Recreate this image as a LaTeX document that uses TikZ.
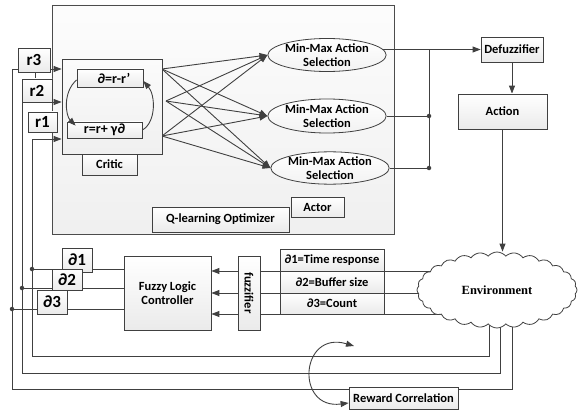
\documentclass[tikz,border=0pt]{standalone}
\usepackage{fontspec}
\setmainfont{Carlito}
\newfontfamily\envfont{Liberation Serif}
\usetikzlibrary{shapes.geometric,shapes.symbols,arrows.meta}

\pgfdeclarelayer{panel}
\pgfdeclarelayer{wires}
\pgfsetlayers{panel,wires,main}

\tikzset{
  wire/.style={draw=black!75, line width=0.9pt},
  box/.style={draw=black!75, line width=0.8pt, top color=white, bottom color=gray!16,
    inner sep=0pt, align=center, font=\bfseries\fontsize{12.5}{14}\selectfont},
  rlabel/.style={box, font=\bfseries\fontsize{17}{18}\selectfont},
  sel/.style={ellipse, draw=black!75, line width=0.8pt, top color=white, bottom color=gray!10,
    inner sep=0pt, align=center, font=\bfseries\fontsize{12.5}{14}\selectfont},
  dot/.style={circle, fill=black!75, inner sep=0pt, minimum size=4.5pt},
}

\begin{document}
\begin{tikzpicture}[x=1pt,y=-1pt,>={Triangle[length=8pt,width=6pt]}]
   \useasboundingbox (0,0) rectangle (579,412);

   % actor panel
   \begin{pgfonlayer}{panel}
   \draw[draw=black!70, line width=0.8pt, top color=gray!2, bottom color=gray!12] (52,5) rectangle (394,234);
   \end{pgfonlayer}

   % critic
   \node[box, top color=gray!3, bottom color=gray!12, minimum width=100, minimum height=95] (critic) at (112,106.5) {};
   \node[box, minimum width=66, minimum height=18, font=\bfseries\fontsize{14}{15}\selectfont] (delta) at (110,78) {\hspace*{8pt}∂=r-r’};
   \node[box, minimum width=75, minimum height=16, font=\bfseries\fontsize{14}{15}\selectfont] (upd) at (104.5,130) {r=r+ γ∂};
   \node[box, minimum width=55, minimum height=21] (criticlbl) at (109.5,164.5) {Critic};

   % actor
   \node[sel, minimum width=113, minimum height=33] (sel1) at (327,55) {Min-Max Action\\Selection};
   \node[sel, minimum width=113, minimum height=34] (sel2) at (327,116) {Min-Max Action\\Selection};
   \node[sel, minimum width=115, minimum height=32] (sel3) at (330,168) {Min-Max Action\\Selection};
   \node[box, minimum width=137, minimum height=25] (qopt) at (220.5,219.5) {Q-learning Optimizer};
   \node[box, minimum width=53, minimum height=20] (actor) at (317.5,207) {Actor};

   \node[box, minimum width=62, minimum height=25] (defuzz) at (512,49.5) {Defuzzifier};
   \node[box, minimum width=89, minimum height=35] (action) at (502.5,111.5) {Action};

   % fuzzy part
   \node[box, minimum width=87, minimum height=74] (flc) at (167.5,293) {Fuzzy Logic\\Controller};
   \node[box, minimum width=22, minimum height=74] (fuzz) at (249,293) {};
   \node[rotate=-90, font=\bfseries\fontsize{12.5}{14}\selectfont] at (fuzz) {fuzzifier};
   \node[box, minimum width=104, minimum height=22] (st1) at (332,260) {∂1=Time response};
   \node[box, minimum width=104, minimum height=22] (st2) at (332,282) {∂2=Buffer size};
   \node[box, minimum width=104, minimum height=21] (st3) at (332,303.5) {∂3=Count};

   \node[cloud, draw=black!75, line width=0.8pt, fill=white, cloud puffs=28, cloud puff arc=100, aspect=2.1,
         minimum width=160, minimum height=76, inner sep=0pt, font=\envfont\bfseries\fontsize{12.5}{14}\selectfont] (env) at (497,290) {Environment};

   \node[box, minimum width=109, minimum height=22] (reward) at (403.5,398) {Reward Correlation};

   % rewards and states
   \node[rlabel, minimum width=32, minimum height=24] (r3) at (34,60) {r3};
   \node[rlabel, minimum width=30, minimum height=23] (r2) at (37,90.5) {r2};
   \node[rlabel, minimum width=29, minimum height=20] (r1) at (42.5,122) {r1};
   \node[rlabel, minimum width=30, minimum height=24] (d1) at (77,260) {∂1};
   \node[rlabel, minimum width=30, minimum height=21] (d2) at (67,279.5) {∂2};
   \node[rlabel, minimum width=30, minimum height=24] (d3) at (52,302) {∂3};

   \node[dot] (dot1) at (32,269) {};
   \node[dot] (dot2) at (22,288) {};
   \node[dot] (dot3) at (12,309) {};
   \node[dot] (j2) at (429,116) {};
   \node[dot] (j3) at (429,168) {};

   \coordinate (s1) at (162,69);
   \coordinate (s2) at (166,101);
   \coordinate (s3) at (162,136);
   \coordinate (e1) at (489,300);
   \coordinate (e2) at (500,300);
   \coordinate (e3) at (512,300);
   \coordinate (swing) at (354,346);

   \begin{pgfonlayer}{wires}
   % double frames behind the critic boxes
   \draw[draw=black!75, line width=0.8pt, fill=white] ([yshift=-3pt]delta.south west) rectangle ([yshift=-3pt]delta.north east);
   \draw[draw=black!75, line width=0.8pt, fill=white] ([xshift=10pt,yshift=-1pt]upd.north west) rectangle ([yshift=-4pt]upd.south east);

   % critic to actor
   \foreach \s in {s1,s2,s3}
     \foreach \t in {sel1,sel2,sel3}
       \draw[wire,->] (\s) -- (\t.west);

   \draw[wire,->] (sel1.center |- defuzz.west) -- (defuzz.west);
   \draw[wire] (sel2) -- (j2);
   \draw[wire] (sel3) -- (j3);
   \draw[wire] (j3) -- (j3 |- defuzz.west);
   \draw[wire,->] (defuzz.south) -- (defuzz.south |- action.north);
   \draw[wire,->] (action.south) -- (action.south |- env.north);

   % environment to fuzzifier and controller
   \foreach \y in {271,293,314}{
     \draw[wire] (env.center |- 0,\y) -- (fuzz.east |- 0,\y);
     \draw[wire,->] (fuzz.west |- 0,\y) -- (flc.east |- 0,\y);
   }
   \draw[wire] (dot1) -- (flc.west |- dot1);
   \draw[wire] (dot2) -- (flc.west |- dot2);
   \draw[wire] ([xshift=-2pt]dot3.center) -- (flc.west |- dot3);

   % reward loops
   \draw[wire,->] (e1) |- (32,356) |- (critic.west |- 0,139);
   \draw[wire,->] (e2) |- (22,373) |- (critic.west |- 0,102);
   \draw[wire,->] (e3) |- (12,389) |- (critic.west |- 0,69);
   \draw[wire] (r3.south -| 35,0) -- (r2.north -| 35,0);
   \end{pgfonlayer}

   % update cycle in the critic
   \draw[wire,->] ([yshift=-2pt]delta.west) .. controls +(-14,12) and +(-10,-10) .. ([xshift=9pt,yshift=-4pt]upd.north west);
   \draw[wire,->] (upd.east) .. controls +(14,-8) and +(12,14) .. ([yshift=-3pt]delta.east);

   \draw[wire,<->] (swing) .. controls (300,330) and (295,410) .. ([yshift=-5pt]reward.west);
\end{tikzpicture}
\end{document}
